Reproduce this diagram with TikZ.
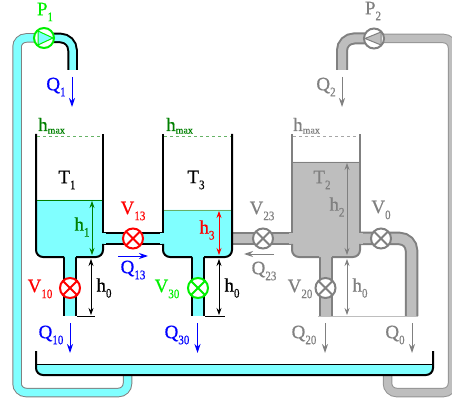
\documentclass[tikz,border=0pt]{standalone}
\usepackage{fontspec}
\usepackage{graphicx}
\setmainfont{Liberation Serif}
\usepackage{tikz}
\usetikzlibrary{arrows.meta, positioning, calc}
\definecolor{aguaCian}{RGB}{128, 255, 255}
\definecolor{grisTubo}{RGB}{190, 190, 190}
\definecolor{grisBorde}{RGB}{128, 128, 128}
\definecolor{verdeNivel}{RGB}{0, 128, 0}
\definecolor{verdeBomba}{RGB}{0, 240, 0}
\newcommand{\lbl}[2]{#1\raisebox{-6pt}{\scalebox{0.85}[1]{\fontsize{13}{13}\selectfont #2}}}
\newcommand{\hmaxlbl}{h\raisebox{-2.5pt}{\fontsize{10}{10}\selectfont max}}
\tikzset{
  retorno/.style={line width=1pt, double distance=7.5pt, rounded corners=9pt},
  tubo/.style={line width=2pt, double distance=#1, rounded corners=12pt},
  valvula/.style={circle, draw=#1, line width=2pt, fill=white, minimum size=20pt, inner sep=0pt,
    path picture={\draw[#1, line width=2pt] (path picture bounding box.north west) -- (path picture bounding box.south east)
      (path picture bounding box.north east) -- (path picture bounding box.south west);}},
  bomba/.style={circle, draw=#1, line width=2pt, fill=white, minimum size=20pt, inner sep=0pt},
  flecha/.style={-{Stealth[length=9pt, width=6pt]}, line width=1pt},
  cota/.style={{Stealth[length=7pt, width=5pt]}-{Stealth[length=7pt, width=5pt]}, line width=0.7pt},
  etiqueta/.style={font=\fontsize{19}{19}\selectfont\addfontfeature{FakeBold=0.5}, inner sep=0pt},
  pared/.style={line width=2pt, rounded corners=7pt}
}
\begin{document}
\begin{tikzpicture}[x=1pt, y=-1pt]
  \useasboundingbox (0,0) rectangle (452,403);
  \clip (0,0) rectangle (452,403);

  % tubos de retorno
  \coordinate (p1a) at (127.5,375);
  \coordinate (p1b) at (127.5,392.5);
  \coordinate (p1c) at (17,392.5);
  \coordinate (p1d) at (17,38);
  \coordinate (p1e) at (72.5,38);
  \coordinate (p1f) at (72.5,70);
  \coordinate (p2a) at (387.5,375);
  \coordinate (p2b) at (387.5,392.5);
  \coordinate (p2c) at (452.5,392.5);
  \coordinate (p2d) at (452.5,38.5);
  \coordinate (p2e) at (342,38.5);
  \coordinate (p2f) at (342,70);
  \coordinate (bomba1) at (44,38);
  \coordinate (bomba2) at (374,38.5);
  \draw[retorno, draw=grisBorde!85!white, double=grisTubo] (p2a) -- (p2b) -- (p2c) -- (p2d) -- (bomba2);
  \draw[tubo=8pt, draw=grisBorde, double=grisTubo] (bomba2) -- (p2e) -- (p2f);
  \draw[retorno, draw=grisBorde, double=aguaCian] (p1a) -- (p1b) -- (p1c) -- (p1d) -- (bomba1);
  \draw[tubo=6.5pt, draw=black, double=aguaCian] (bomba1) -- (p1e) -- (p1f);

  % deposito inferior
  \fill[aguaCian, rounded corners=7pt] (36,364) -- (36,375) -- (433,375) -- (433,364);
  \draw[black, line width=1pt] (37,364) -- (432,364);
  \draw[pared] (36,351) -- (36,375) -- (433,375) -- (433,351);

  % tuberias de los tanques
  \coordinate (s1) at (70,250);
  \coordinate (e1) at (70,316);
  \coordinate (s3) at (198,250);
  \coordinate (e3) at (198,316);
  \coordinate (s2) at (325.5,250);
  \coordinate (e2) at (325.5,316);
  \coordinate (m1) at (100,238.5);
  \coordinate (m3) at (166,238.5);
  \coordinate (m3b) at (232,238.5);
  \coordinate (m2) at (295,238.5);
  \coordinate (m2b) at (357,238.5);
  \coordinate (codo) at (411.5,238.5);
  \coordinate (e0) at (411.5,316);
  \draw[tubo=10pt, draw=black, double=aguaCian] (s1) -- (e1);
  \draw[tubo=10pt, draw=black, double=aguaCian] (s3) -- (e3);
  \draw[tubo=9.5pt, draw=black, double=aguaCian] (m1) -- (m3);
  \draw[tubo=10pt, draw=grisBorde, double=grisTubo] (s2) -- (e2);
  \draw[tubo=9.5pt, draw=grisBorde, double=grisTubo] (m3b) -- (m2);
  \draw[tubo=9.5pt, draw=grisBorde, double=grisTubo] (m2b) -- (codo) -- (e0);

  % tanques
  \fill[aguaCian, rounded corners=7pt] (36,200) -- (36,257) -- (103,257) -- (103,200);
  \fill[aguaCian, rounded corners=7pt] (163,210) -- (163,257) -- (232,257) -- (232,210);
  \fill[grisTubo, rounded corners=7pt] (292,162) -- (292,257) -- (360,257) -- (360,162);
  \fill[aguaCian] (100,233) rectangle (106,244);
  \fill[aguaCian] (160,233) rectangle (166,244);
  \fill[grisTubo] (289,233) rectangle (295,244);
  \fill[grisTubo] (357,233) rectangle (363,244);
  \draw[pared] (36,134) -- (36,257) -- (64,257);
  \draw[pared] (76,257) -- (103,257) -- (103,244);
  \draw[pared] (103,233) -- (103,134);
  \draw[pared] (163,134) -- (163,233);
  \draw[pared] (163,244) -- (163,257) -- (192,257);
  \draw[pared] (204,257) -- (232,257) -- (232,134);
  \draw[pared, draw=grisBorde] (292,134) -- (292,233);
  \draw[pared, draw=grisBorde] (292,244) -- (292,257) -- (319,257);
  \draw[pared, draw=grisBorde] (332,257) -- (360,257) -- (360,244);
  \draw[pared, draw=grisBorde] (360,233) -- (360,134);
  \draw[verdeNivel, line width=0.8pt] (37,200) -- (102,200);
  \draw[verdeBomba!50!black!60!white, line width=0.8pt] (164,210) -- (231,210);
  \draw[grisBorde, line width=0.8pt] (293,162) -- (359,162);

  % nivel maximo
  \draw[verdeNivel!60!white, dashed, line width=0.7pt] (37,136) -- (102,136);
  \draw[verdeNivel!60!white, dashed, line width=0.7pt] (164,136) -- (231,136);
  \draw[grisBorde!70!white, dashed, line width=0.7pt] (293,136) -- (359,136);
  \node[etiqueta, text=verdeNivel, anchor=base west] (hmax1) at (38,131) {\hmaxlbl};
  \node[etiqueta, text=verdeNivel, anchor=base west] (hmax3) at (166,131) {\hmaxlbl};
  \node[etiqueta, text=grisBorde, anchor=base west] (hmax2) at (293,131) {\hmaxlbl};

  % alturas
  \draw[cota, verdeNivel] (92,201) -- (92,255);
  \draw[cota, red] (219,211) -- (219,255);
  \draw[cota, grisBorde] (347,163) -- (347,255);
  \draw[cota, black] (91,259) -- (91,315);
  \draw[cota, black] (219,259) -- (219,315);
  \draw[cota, grisBorde] (347,259) -- (347,315);
  \draw[black, line width=0.7pt] (77,316) -- (95,316);
  \draw[black, line width=0.7pt] (205,316) -- (225,316);
  \draw[grisTubo, line width=1pt] (318,316.5) -- (418,316.5);

  % valvulas y bombas
  \node[valvula=red] (V13) at (133,238.5) {};
  \node[valvula=red] (V10) at (70,288) {};
  \node[valvula=verdeBomba] (V30) at (198,288) {};
  \node[valvula=grisBorde] (V23) at (263,238.5) {};
  \node[valvula=grisBorde] (V20) at (325.5,288) {};
  \node[valvula=grisBorde] (V0) at (381,238.5) {};
  \node[bomba=verdeBomba] (P1) at (bomba1) {};
  \node[bomba=grisBorde] (P2) at (bomba2) {};
  \draw[verdeBomba, fill=aguaCian, line width=1pt] (38,31) -- (53,38) -- (38,45) -- cycle;
  \draw[grisBorde, fill=grisTubo, line width=1pt] (381,32) -- (365,38.5) -- (381,45) -- cycle;

  % caudales
  \draw[flecha, blue] (72,77) -- (72,107);
  \draw[flecha, grisBorde] (342,77) -- (342,107);
  \draw[flecha, blue] (118,256) -- (148,256);
  \draw[flecha, grisBorde] (274,254) -- (244,254);
  \draw[flecha, blue] (70,323) -- (70,353);
  \draw[flecha, blue] (197.5,323) -- (197.5,353);
  \draw[flecha, grisBorde] (325,323) -- (325,353);
  \draw[flecha, grisBorde] (412,323) -- (412,353);

  % etiquetas
  \node[etiqueta, text=verdeBomba] (lP1) at (45,12) {\lbl{P}{1}};
  \node[etiqueta, text=grisBorde] (lP2) at (373,11) {\lbl{P}{2}};
  \node[etiqueta, text=blue] (lQ1) at (56,87) {\lbl{Q}{1}};
  \node[etiqueta, text=grisBorde] (lQ2) at (326,87) {\lbl{Q}{2}};
  \node[etiqueta, text=black] (lT1) at (67,180) {\lbl{T}{1}};
  \node[etiqueta, text=black] (lT3) at (196,180) {\lbl{T}{3}};
  \node[etiqueta, text=grisBorde] (lT2) at (322,180) {\lbl{T}{2}};
  \node[etiqueta, text=verdeNivel] (lh1) at (82,227) {\lbl{h}{1}};
  \node[etiqueta, text=red] (lh3) at (207,230) {\lbl{h}{3}};
  \node[etiqueta, text=grisBorde] (lh2) at (337,207) {\lbl{h}{2}};
  \node[etiqueta, text=black] (lh01) at (104,288) {\lbl{h}{0}};
  \node[etiqueta, text=black] (lh03) at (232,288) {\lbl{h}{0}};
  \node[etiqueta, text=grisBorde] (lh02) at (360,288) {\lbl{h}{0}};
  \node[etiqueta, text=red] (lV13) at (133,211) {\lbl{V}{13}};
  \node[etiqueta, text=red] (lV10) at (40,289) {\lbl{V}{10}};
  \node[etiqueta, text=verdeBomba] (lV30) at (167,289) {\lbl{V}{30}};
  \node[etiqueta, text=grisBorde] (lV23) at (262,211) {\lbl{V}{23}};
  \node[etiqueta, text=grisBorde] (lV20) at (300,289) {\lbl{V}{20}};
  \node[etiqueta, text=grisBorde] (lV0) at (381,210) {\lbl{V}{0}};
  \node[etiqueta, text=blue] (lQ13) at (133,270) {\lbl{Q}{13}};
  \node[etiqueta, text=grisBorde] (lQ23) at (264,271) {\lbl{Q}{23}};
  \node[etiqueta, text=blue] (lQ10) at (51,335) {\lbl{Q}{10}};
  \node[etiqueta, text=blue] (lQ30) at (177,335) {\lbl{Q}{30}};
  \node[etiqueta, text=grisBorde] (lQ20) at (304,335) {\lbl{Q}{20}};
  \node[etiqueta, text=grisBorde] (lQ0) at (395,335) {\lbl{Q}{0}};
\end{tikzpicture}
\end{document}
